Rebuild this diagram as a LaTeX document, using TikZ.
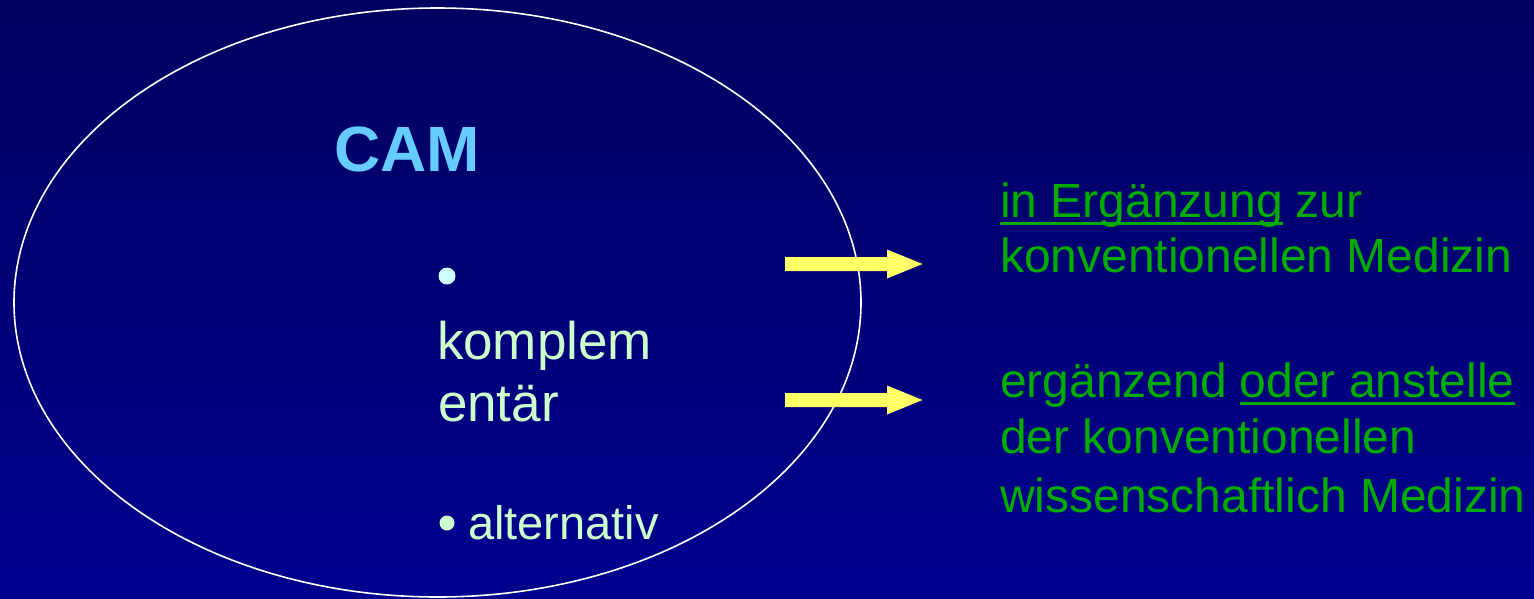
\documentclass[tikz,border=0pt]{standalone}
\usepackage{fontspec}
\setmainfont{Liberation Sans}
\usetikzlibrary{shapes.geometric}
\definecolor{bgtop}{RGB}{0,0,96}
\definecolor{bgbot}{RGB}{0,0,142}
\definecolor{camblue}{RGB}{102,204,255}
\definecolor{lightgreen}{RGB}{204,255,204}
\definecolor{lightcyan}{RGB}{204,255,255}
\definecolor{txtgreen}{RGB}{0,172,0}
\definecolor{arrowyellow}{RGB}{255,255,102}
\tikzset{
  txt/.style={inner sep=0pt, outer sep=0pt, anchor=base west},
  inner/.style={txt, text=lightgreen, font=\fontsize{53}{60}\selectfont},
  right/.style={txt, text=txtgreen, font=\fontsize{48}{55}\selectfont},
  bul/.style={circle, inner sep=0pt, minimum size=17pt},
  ul/.style={txtgreen, line width=3pt},
  arrowfill/.style={fill=arrowyellow},
}
\begin{document}
\begin{tikzpicture}[x=1pt,y=-1pt]
\useasboundingbox (0,0) rectangle (1534,598);
\shade[top color=bgtop, bottom color=bgbot] (0,0) rectangle (1534,598);
\node[draw=white, line width=1.6pt, ellipse, inner sep=0pt, minimum width=847pt, minimum height=589pt] (oval) at (437.5,302.5) {};
\node[txt, text=camblue, font=\fontsize{64}{72}\selectfont\bfseries] (cam) at (334,171) {CAM};
\node[bul, fill=lightcyan] (b1) at (447,276) {};
\node[inner] (komp1) at (437,359) {komplem};
\node[inner] (komp2) at (438,421) {entär};
\node[bul, fill=lightgreen, minimum size=15pt] (b2) at (447,523) {};
\node[inner, font=\fontsize{47}{54}\selectfont] (alt) at (468,539) {alternativ};
% arrows
\fill[arrowfill] (785,257) -- (887,257) -- (887,249.5) -- (922.5,264) -- (887,278.5) -- (887,271) -- (785,271) -- cycle;
\fill[arrowfill] (785,393) -- (887,393) -- (887,385.5) -- (922.5,400) -- (887,414.5) -- (887,407) -- (785,407) -- cycle;
% right text 1
\node[right] (r1a) at (1000,217) {in Ergänzung};
\node[right] (r1b) at ([xshift=13pt]r1a.base east) {zur};
\node[right] (r1c) at (1000,272) {konventionellen Medizin};
\draw[ul] ([yshift=-6pt]r1a.base west) -- ([yshift=-6pt]r1a.base east);
% right text 2
\node[right] (r2a) at (1000,397) {ergänzend};
\node[right] (r2b) at ([xshift=13pt]r2a.base east) {oder anstelle};
\node[right] (r2c) at (1000,453) {der konventionellen};
\node[right] (r2d) at (1000,512) {wissenschaftlich Medizin};
\draw[ul] ([yshift=-6pt]r2b.base west) -- ([yshift=-6pt]r2b.base east);
\end{tikzpicture}
\end{document}
